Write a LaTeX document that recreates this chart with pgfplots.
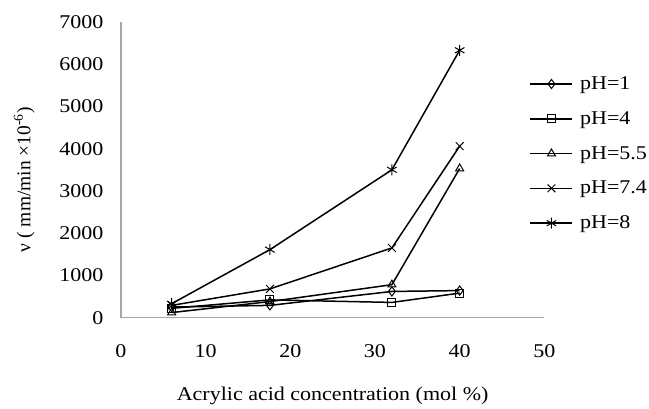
\documentclass[border=0pt]{standalone}
\usepackage{fontspec}
\setmainfont{Liberation Serif}
\newfontfamily\widefont[FakeStretch=1.13]{Liberation Serif}
\usepackage{pgfplots}
\pgfplotsset{compat=1.18}
\begin{document}
\begin{tikzpicture}
\begin{axis}[
  scale only axis,
  width=424pt, height=296pt,
  xmin=0, xmax=50, ymin=0, ymax=7000,
  xtick={0,10,...,50}, ytick={0,1000,...,7000},
  axis x line*=bottom, axis y line*=left,
  axis line style={gray!70, line width=1.4pt, -},
  major tick length=0pt,
  tick label style={font=\widefont\fontsize{19.5}{22}\selectfont},
  /pgf/number format/assume math mode=true,
  /pgf/number format/set thousands separator={},
  xticklabel style={yshift=-23pt},
  yticklabel style={xshift=-14pt},
  xlabel={Acrylic acid concentration (mol \%)},
  ylabel={ν ( mm/min ×10\textsuperscript{-6})},
  xlabel style={font=\widefont\fontsize{19.5}{22}\selectfont, yshift=-23pt},
  ylabel style={font=\fontsize{19.5}{22}\selectfont, yshift=18pt, xshift=-10pt},
  legend style={draw=none, fill=none, at={(0.965,0.822)}, anchor=north west,
    font=\widefont\fontsize{19.5}{22}\selectfont, row sep=16.5pt, column sep=5pt,
    inner sep=0pt},
  legend cell align=left,
  legend image code/.code={
    \draw[#1, mark repeat=2, mark phase=2] plot coordinates {(0pt,0pt) (21pt,0pt) (42pt,0pt)};
  },
  series/.style={black, line width=1.5pt, mark size=4.6pt,
    mark options={solid, fill=white, line width=1pt}},
]
\addplot[series, mark=diamond] coordinates {(6,250) (17.6,290) (32,620) (40,640)};
\addlegendentry{pH=1}
\addplot[series, mark=square, mark size=4pt] coordinates {(6,220) (17.6,420) (32,360) (40,580)};
\addlegendentry{pH=4}
\addplot[series, mark=triangle] coordinates {(6,120) (17.6,380) (32,780) (40,3530)};
\addlegendentry{pH=5.5}
\addplot[series, mark=x, mark size=5.5pt] coordinates {(6,290) (17.6,680) (32,1650) (40,4060)};
\addlegendentry{pH=7.4}
\addplot[series, mark=asterisk, mark size=5.5pt] coordinates {(6,330) (17.6,1610) (32,3500) (40,6330)};
\addlegendentry{pH=8}
\end{axis}
\path ([xshift=-121pt,yshift=-86pt]current axis.south west) rectangle ([xshift=104pt,yshift=22pt]current axis.north east);
\end{tikzpicture}
\end{document}
